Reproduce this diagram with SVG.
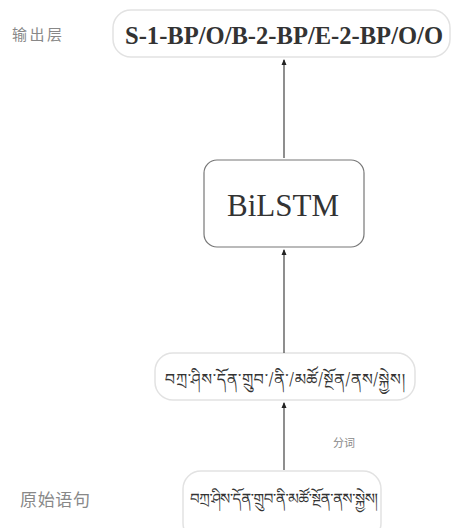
<svg xmlns="http://www.w3.org/2000/svg" width="453" height="528" viewBox="0 0 453 528">
<style>
.lab{font-family:"Noto Sans CJK SC","Noto Sans",sans-serif;fill:#888}
.soft{fill:#fff;stroke:#e2e2e2;stroke-width:1.5}
.hard{fill:#fff;stroke:#777;stroke-width:1.2}
.tib{font-family:"Noto Sans Tibetan","Noto Serif Tibetan","Jomolhari","DejaVu Sans","Noto Sans",sans-serif;fill:#333;text-anchor:middle}
.conn line{stroke:#444;stroke-width:1.2}
</style>
<defs>
<marker id="ah" markerWidth="6" markerHeight="6" refX="5" refY="3" orient="auto" markerUnits="userSpaceOnUse">
<path d="M0,0.5 L6,3 L0,5.5 z" fill="#222"/>
</marker>
</defs>
<rect width="453" height="528" fill="#fff"/>
<g id="label-output"><text class="lab" x="12" y="40" font-size="15" textLength="50">输出层</text></g>
<g id="label-source"><text class="lab" x="20" y="506" font-size="17" textLength="70">原始语句</text></g>
<g id="label-seg"><text class="lab" x="333" y="447" font-size="11">分词</text></g>
<g id="output">
<rect class="soft" x="113" y="10" width="337" height="47" rx="18"/>
<text x="284" y="44" font-family="Liberation Serif,serif" font-size="25" font-weight="bold" fill="#333" text-anchor="middle" textLength="318" lengthAdjust="spacingAndGlyphs">S-1-BP/O/B-2-BP/E-2-BP/O/O</text>
</g>
<g id="bilstm">
<rect class="hard" x="204" y="160" width="160" height="87" rx="13"/>
<text x="283" y="216" font-family="Liberation Serif,serif" font-size="31" fill="#333" text-anchor="middle">BiLSTM</text>
</g>
<g id="segmented">
<rect class="soft" x="155" y="353" width="260" height="47" rx="18"/>
<text class="tib" x="285" y="385" font-size="16" textLength="240">བཀྲ་ཤིས་དོན་གྲུབ་/ནི་/མཚོ/སྔོན/ནས/སྐྱེས།</text>
</g>
<g id="source">
<rect class="soft" x="183" y="471" width="198" height="70" rx="18"/>
<text class="tib" x="284" y="504" font-size="15" textLength="188">བཀྲ་ཤིས་དོན་གྲུབ་ནི་མཚོ་སྔོན་ནས་སྐྱེས།</text>
</g>
<g class="conn" id="connectors">
<line x1="284" y1="158" x2="284" y2="60" marker-end="url(#ah)"/>
<line x1="284" y1="353" x2="284" y2="250" marker-end="url(#ah)"/>
<line x1="284" y1="470" x2="284" y2="403" marker-end="url(#ah)"/>
</g>
</svg>
